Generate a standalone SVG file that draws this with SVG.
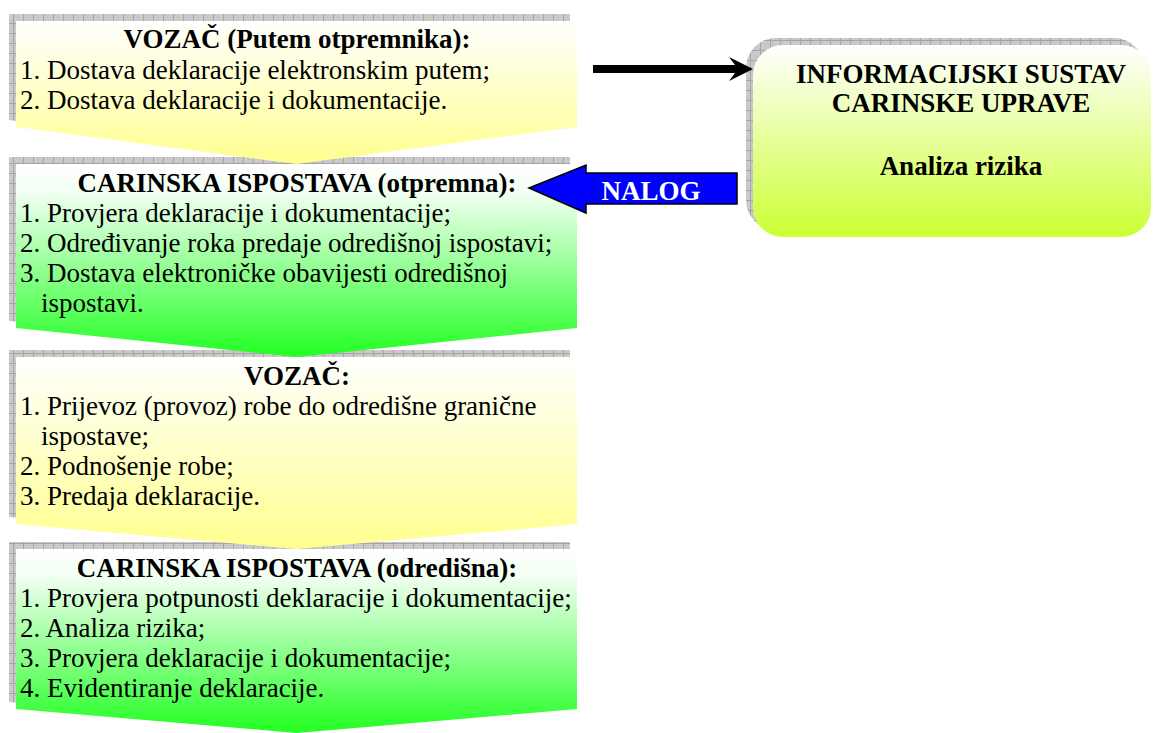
<svg xmlns="http://www.w3.org/2000/svg" width="1155" height="733" viewBox="0 0 1155 733" font-family="'Liberation Serif', 'DejaVu Serif', serif">
<style>
  .t { font-family: 'Liberation Serif', 'DejaVu Serif', serif; font-size: 27px; fill: #000; }
  .b { font-weight: bold; }
  .c { text-anchor: middle; }
  .w { fill: #ffffff; }
  .sh { fill: url(#shadowPat); }
</style>
<defs>
  <pattern id="shadowPat" width="10" height="10" patternUnits="userSpaceOnUse">
    <rect width="10" height="10" fill="#cacaca"/>
    <rect x="0" y="0" width="1" height="1" fill="#b8b8b8"/>
    <rect x="2" y="2" width="1" height="1" fill="#b8b8b8"/>
    <rect x="4" y="4" width="1" height="1" fill="#b8b8b8"/>
    <rect x="6" y="6" width="1" height="1" fill="#b8b8b8"/>
    <rect x="8" y="8" width="1" height="1" fill="#b8b8b8"/>
    <path d="M0.5,0 V10 M0,0.5 H10" stroke="#a4a4a4" stroke-width="1" fill="none"/>
  </pattern>
  <linearGradient id="gYellow" x1="0" y1="0" x2="0" y2="1">
    <stop offset="0" stop-color="#ffffff"/>
    <stop offset="1" stop-color="#ffff8f"/>
  </linearGradient>
  <linearGradient id="gGreen" x1="0" y1="0" x2="0" y2="1">
    <stop offset="0" stop-color="#ffffff"/>
    <stop offset="0.15" stop-color="#f2fff2"/>
    <stop offset="1" stop-color="#22ff22"/>
  </linearGradient>
  <linearGradient id="gLime" x1="0" y1="0" x2="0" y2="1">
    <stop offset="0" stop-color="#ffffff"/>
    <stop offset="1" stop-color="#ccff33"/>
  </linearGradient>
</defs>

<!-- drawn bottom-up so each chevron point lies over the next box's shadow -->
<g id="node-carinska-odredisna">
  <path class="sh" transform="translate(-7,-7)" d="M16,549 H577 V709 L296.5,733 L16,709 Z"/>
  <path fill="url(#gGreen)" d="M16,549 H577 V709 L296.5,733 L16,709 Z"/>
  <text class="t b c" x="297" y="577">CARINSKA ISPOSTAVA (odredišna):</text>
  <text class="t" x="20" y="607">1. Provjera potpunosti deklaracije i dokumentacije;</text>
  <text class="t" x="20" y="637">2. Analiza rizika;</text>
  <text class="t" x="20" y="667">3. Provjera deklaracije i dokumentacije;</text>
  <text class="t" x="20" y="697">4. Evidentiranje deklaracije.</text>
</g>

<g id="node-vozac">
  <path class="sh" transform="translate(-7,-7)" d="M16,357 H577 V524 L296.5,549 L16,524 Z"/>
  <path fill="url(#gYellow)" d="M16,357 H577 V524 L296.5,549 L16,524 Z"/>
  <text class="t b c" x="297" y="385">VOZAČ:</text>
  <text class="t" x="20" y="415">1. Prijevoz (provoz) robe do odredišne granične</text>
  <text class="t" x="41" y="445">ispostave;</text>
  <text class="t" x="20" y="475">2. Podnošenje robe;</text>
  <text class="t" x="20" y="505">3. Predaja deklaracije.</text>
</g>

<g id="node-carinska-otpremna">
  <path class="sh" transform="translate(-7,-7)" d="M16,164 H577 V328 L296.5,357 L16,328 Z"/>
  <path fill="url(#gGreen)" d="M16,164 H577 V328 L296.5,357 L16,328 Z"/>
  <text class="t b c" x="297" y="192">CARINSKA ISPOSTAVA (otpremna):</text>
  <text class="t" x="20" y="222">1. Provjera deklaracije i dokumentacije;</text>
  <text class="t" x="20" y="252">2. Određivanje roka predaje odredišnoj ispostavi;</text>
  <text class="t" x="20" y="282">3. Dostava elektroničke obavijesti odredišnoj</text>
  <text class="t" x="41" y="312">ispostavi.</text>
</g>

<g id="node-vozac-otpremnik">
  <path class="sh" transform="translate(-7,-7)" d="M16,21 H577 V127 L296.5,164 L16,127 Z"/>
  <path fill="url(#gYellow)" d="M16,21 H577 V127 L296.5,164 L16,127 Z"/>
  <text class="t b c" x="297" y="48">VOZAČ (Putem otpremnika):</text>
  <text class="t" x="20" y="79">1. Dostava deklaracije elektronskim putem;</text>
  <text class="t" x="20" y="109">2. Dostava deklaracije i dokumentacije.</text>
</g>

<g id="node-informacijski-sustav">
  <rect class="sh" x="746" y="38" width="398" height="192" rx="30" ry="30"/>
  <rect fill="url(#gLime)" x="753" y="45" width="398" height="192" rx="30" ry="30"/>
  <text class="t b c" x="961" y="83">INFORMACIJSKI SUSTAV</text>
  <text class="t b c" x="961" y="112">CARINSKE UPRAVE</text>
  <text class="t b c" x="961" y="175">Analiza rizika</text>
</g>

<g id="connectors">
  <line x1="593" y1="69" x2="740" y2="69" stroke="#000" stroke-width="8"/>
  <polygon points="753,69 729,57 738,69 729,81" fill="#000"/>
  <path d="M529,188 L586,165 L586,173 L737,173 L737,204 L586,204 L586,213 Z" fill="#0000ff" stroke="#000" stroke-width="1.5" stroke-linejoin="miter"/>
  <text class="t b c w" x="651" y="200">NALOG</text>
</g>
</svg>
